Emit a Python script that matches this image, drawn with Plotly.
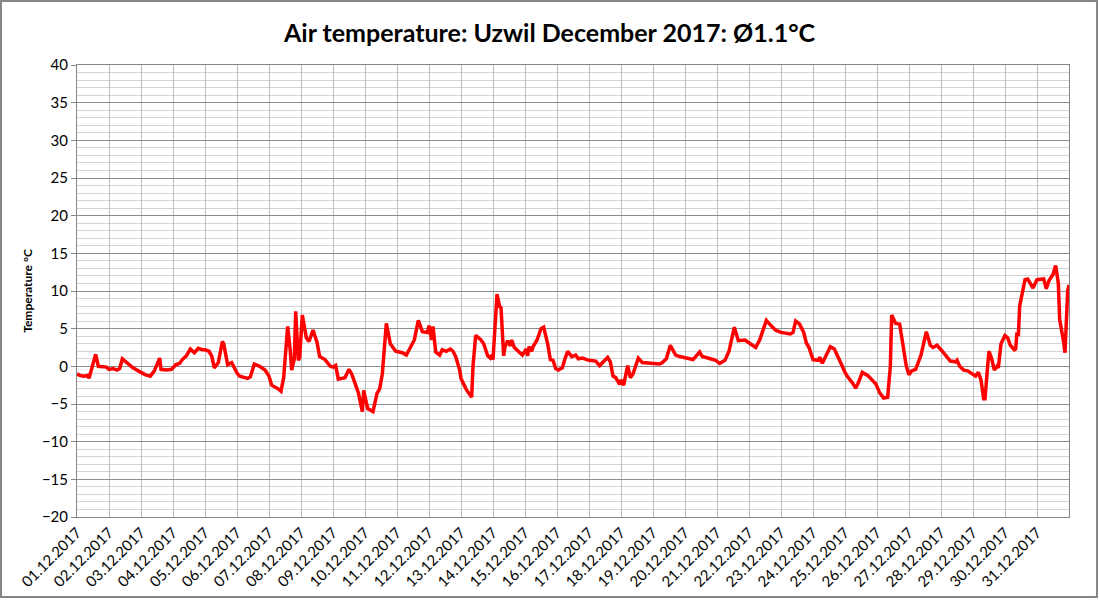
import pandas as pd
import plotly.graph_objects as go

# hours after 01.12.2017 00:00 and air temperature in degC
hours = [
    0, 2, 5, 8, 9, 11, 12, 14, 16, 19, 22, 24, 27, 30, 32, 34, 38, 42, 47, 51,
    55, 58, 62, 63, 67, 71, 74, 77, 79, 82, 85, 88, 91, 94, 96, 99, 101, 103, 106, 109,
    110, 113, 116, 120, 122, 128, 130, 133, 137, 141, 144, 146, 151, 153, 155, 158, 160, 161, 163, 164,
    166, 167, 169, 172, 174, 177, 180, 182, 186, 190, 192, 194, 196, 201, 204, 206, 209, 211, 214, 215,
    218, 222, 225, 227, 229, 232, 235, 239, 244, 247, 250, 253, 256, 259, 263, 264, 266, 267, 269, 272,
    274, 277, 280, 282, 284, 287, 288, 292, 296, 297, 299, 303, 305, 308, 310, 311, 312, 315, 317, 318,
    320, 321, 323, 325, 326, 328, 331, 334, 337, 338, 339, 341, 342, 345, 348, 350, 353, 355, 357, 359,
    361, 364, 366, 368, 371, 374, 376, 379, 384, 387, 389, 392, 395, 398, 400, 402, 404, 407, 408, 410,
    413, 415, 417, 421, 424, 430, 437, 439, 442, 445, 449, 452, 457, 462, 467, 469, 475, 479, 482, 486,
    489, 493, 496, 501, 505, 509, 512, 517, 520, 524, 528, 535, 537, 539, 542, 545, 547, 549, 552, 556,
    557, 559, 562, 565, 568, 571, 574, 576, 578, 582, 584, 586, 589, 593, 596, 599, 602, 605, 608, 610,
    611, 614, 617, 620, 622, 624, 626, 629, 631, 633, 637, 640, 642, 645, 648, 651, 655, 659, 660, 662,
    665, 668, 671, 674, 676, 678, 680, 681, 683, 684, 686, 688, 690, 691, 693, 696, 698, 700, 703, 704,
    705, 706, 707, 709, 711, 713, 717, 720, 725, 727, 729, 732, 734, 736, 737, 740, 741, 743, 744,
]
temps = [
    -1.0, -1.2, -1.3, -1.2, -1.6, -0.2, 0.5, 1.6, 0.0, 0.0, -0.1, -0.4, -0.3, -0.5, -0.3, 1.0, 0.4, -0.2, -0.7, -1.1,
    -1.3, -0.6, 1.1, -0.4, -0.5, -0.4, 0.2, 0.4, 0.9, 1.4, 2.3, 1.8, 2.4, 2.2, 2.2, 2.0, 1.4, -0.2, 0.5, 3.3,
    3.0, 0.2, 0.5, -0.9, -1.3, -1.6, -1.4, 0.3, 0.0, -0.5, -1.3, -2.5, -3.0, -3.3, -1.5, 5.3, 2.0, -0.5, 1.0, 7.3,
    0.8, 1.2, 6.8, 3.8, 3.3, 4.8, 3.2, 1.3, 0.9, 0.0, -0.1, 0.1, -1.7, -1.5, -0.4, -1.0, -2.5, -3.5, -6.0, -3.2,
    -5.6, -6.0, -3.6, -3.0, -1.0, 5.7, 3.0, 2.0, 1.8, 1.5, 2.5, 3.5, 6.1, 4.6, 4.5, 5.4, 3.5, 5.3, 1.9, 1.5,
    2.2, 2.0, 2.3, 2.0, 1.3, -0.5, -1.6, -3.1, -4.1, 0.0, 4.1, 3.5, 3.0, 1.4, 1.1, 1.5, 0.9, 9.6, 7.9, 7.8,
    1.4, 2.6, 3.4, 2.7, 3.5, 2.5, 2.0, 1.5, 2.3, 1.4, 2.6, 2.0, 2.6, 3.5, 5.0, 5.2, 3.0, 0.9, 0.8, -0.3,
    -0.5, -0.2, 1.0, 2.0, 1.3, 1.5, 1.0, 1.1, 0.8, 0.8, 0.7, 0.1, 0.7, 1.2, 0.6, -1.3, -1.5, -2.4, -1.8, -2.5,
    0.1, -1.5, -1.0, 1.1, 0.5, 0.4, 0.3, 0.5, 1.0, 2.8, 1.5, 1.3, 1.1, 0.9, 1.9, 1.3, 1.0, 0.8, 0.4, 0.8,
    2.0, 5.2, 3.4, 3.5, 3.0, 2.5, 3.5, 6.1, 5.5, 4.8, 4.5, 4.3, 4.5, 6.0, 5.6, 4.5, 3.1, 2.5, 0.9, 0.8,
    1.2, 0.4, 1.5, 2.6, 2.3, 1.0, 0.0, -0.8, -1.4, -2.3, -2.9, -2.2, -0.8, -1.2, -1.7, -2.3, -3.5, -4.2, -4.1, 0.0,
    6.8, 5.7, 5.6, 1.8, 0.0, -1.1, -0.6, -0.4, 0.5, 1.5, 4.6, 2.8, 2.5, 2.8, 2.2, 1.5, 0.7, 0.6, 0.8, 0.0,
    -0.5, -0.6, -0.9, -1.3, -0.8, -1.8, -4.3, -4.3, 0.1, 2.0, 1.0, -0.5, 0.0, -0.2, 3.0, 4.1, 3.8, 2.8, 2.2, 2.3,
    4.5, 4.0, 8.0, 10.0, 11.5, 11.6, 10.4, 11.5, 11.6, 10.3, 11.4, 12.2, 13.4, 11.0, 6.2, 3.2, 1.8, 10.0, 10.8,
]

start = pd.Timestamp("2017-12-01")
times = start + pd.to_timedelta(hours, unit="h")
days = pd.date_range("2017-12-01", "2017-12-31", freq="D")

fig = go.Figure()
fig.add_trace(go.Scatter(x=times, y=temps, mode="lines",
                         line=dict(color="#FF0000", width=3.5), showlegend=False))

fig.update_layout(
    title=dict(text="<b>Air temperature: Uzwil December 2017: Ø1.1°C</b>",
               x=0.5, xanchor="center", y=0.945, yanchor="middle",
               font=dict(family="Lato", size=25, color="#000000")),
    width=1099,
    height=600,
    margin=dict(l=77, r=30, t=65, b=83),
    paper_bgcolor="white",
    plot_bgcolor="white",
    font=dict(family="Lato", size=15, color="#000000"),
    xaxis=dict(
        type="date",
        range=[start, pd.Timestamp("2018-01-01")],
        tickvals=days,
        tickformat="%d.%m.%Y",
        tickangle=-45,
        automargin=False,
        showgrid=True,
        gridcolor="#BDBDBD",
        gridwidth=1,
        showline=True,
        linecolor="#868686",
        mirror=True,
        ticks="",
        zeroline=False,
    ),
    yaxis=dict(
        range=[-20, 40],
        dtick=5,
        automargin=False,
        showgrid=True,
        gridcolor="#8C8C8C",
        gridwidth=1,
        minor=dict(dtick=1, showgrid=True, gridcolor="#D4D4D4", gridwidth=1),
        showline=True,
        linecolor="#868686",
        mirror=True,
        ticks="outside",
        ticklen=5,
        tickcolor="#868686",
        zeroline=False,
        title=dict(text="<b>Temperature °C</b>", font=dict(size=12), standoff=6),
    ),
)

# outer chart border
fig.add_shape(type="rect", xref="paper", yref="paper",
              x0=-0.0766, x1=1.0282, y0=-0.177, y1=1.1416,
              line=dict(color="#868686", width=2), fillcolor="rgba(0,0,0,0)")

# no page margin, so the chart sits at the window's corner
fig.write_html("out.html", config={"displayModeBar": False},
               post_script="document.body.style.margin='0px';")
